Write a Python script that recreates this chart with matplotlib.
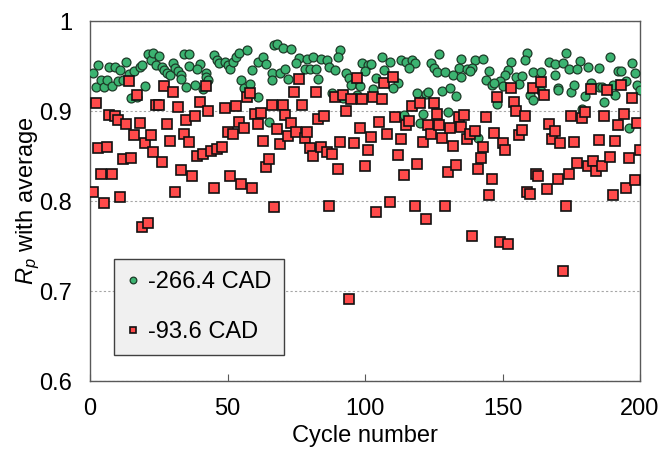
import matplotlib
matplotlib.use("Agg")
import matplotlib.pyplot as plt

plt.rcParams['font.family'] = ['Liberation Sans', 'DejaVu Sans']
plt.rcParams['mathtext.fontset'] = 'custom'
plt.rcParams['mathtext.rm'] = 'Liberation Sans'
plt.rcParams['mathtext.it'] = 'Liberation Sans:italic'

# ---- data ----
green_cycle = [1, 2, 3, 4, 5, 6, 7, 8, 9, 10, 11, 12, 13, 14, 15, 16, 17, 18, 19, 20,
               21, 22, 23, 24, 25, 26, 27, 28, 29, 30, 31, 32, 33,
               34, 36, 36, 40, 39, 33, 35, 38, 41, 42, 42, 43, 45, 46, 47, 49, 50,
               51, 52, 53, 54, 57, 59, 55, 56, 58, 61, 61, 63, 64, 65, 67, 66, 66,
               68, 70, 73, 76, 79, 81, 84, 86, 91, 90, 75, 87, 89, 78, 80, 82, 69,
               71, 72, 83, 93, 94, 96, 95, 98, 99, 101, 88, 92, 97, 100,
               106, 109, 113, 115, 117, 118, 116, 124, 127, 125, 126, 129, 132, 134,
               135, 135, 102, 104, 107, 112, 110, 103, 119, 122, 123, 128, 131, 133,
               130, 121, 114, 120,
               140, 143, 159, 158, 153, 167, 169, 137, 139, 145, 152, 138, 155, 157,
               161, 164, 169, 151, 144, 149, 146, 147, 150, 156, 148, 160, 161, 164,
               170, 141,
               173, 189, 172, 178, 174, 177, 181, 185, 197, 198, 192, 193, 170, 175,
               176, 182, 185, 186, 190, 195, 199, 200, 180, 191, 187, 179, 196]
green_rp = [0.942, 0.927, 0.951, 0.934, 0.927, 0.934, 0.949, 0.928, 0.949, 0.933,
            0.946, 0.934, 0.954, 0.941, 0.914, 0.944, 0.916, 0.949, 0.951, 0.928,
            0.963, 0.957, 0.964, 0.951, 0.961, 0.949, 0.946, 0.942, 0.940, 0.953,
            0.948, 0.945, 0.940,
            0.963, 0.963, 0.950, 0.952, 0.947, 0.936, 0.927, 0.929, 0.925, 0.942,
            0.938, 0.934, 0.962, 0.957, 0.953, 0.955, 0.951, 0.947, 0.955, 0.960,
            0.965, 0.968, 0.946, 0.934, 0.926, 0.930, 0.916, 0.955, 0.960, 0.952,
            0.888, 0.973, 0.942, 0.934,
            0.974, 0.970, 0.969, 0.959, 0.958, 0.960, 0.958, 0.957, 0.968, 0.960,
            0.953, 0.949, 0.946, 0.947, 0.947, 0.947, 0.942, 0.947, 0.936, 0.936,
            0.942, 0.937, 0.931, 0.929, 0.928, 0.953, 0.951, 0.920, 0.914, 0.918,
            0.944,
            0.960, 0.955, 0.957, 0.954, 0.957, 0.953, 0.948, 0.953, 0.963, 0.948,
            0.943, 0.943, 0.940, 0.948, 0.958, 0.938, 0.952, 0.937, 0.946, 0.931,
            0.926, 0.924, 0.920, 0.919, 0.921, 0.922, 0.926, 0.917, 0.899, 0.897,
            0.896, 0.887,
            0.957, 0.958, 0.965, 0.957, 0.954, 0.954, 0.952, 0.947, 0.948, 0.945,
            0.946, 0.944, 0.938, 0.939, 0.943, 0.943, 0.940, 0.940, 0.934, 0.933,
            0.929, 0.931, 0.928, 0.930, 0.908, 0.918, 0.912, 0.922, 0.926, 0.870,
            0.964, 0.960, 0.953, 0.956, 0.947, 0.947, 0.949, 0.948, 0.953, 0.942,
            0.944, 0.944, 0.923, 0.921, 0.929, 0.931, 0.927, 0.927, 0.929, 0.933,
            0.929, 0.923, 0.917, 0.918, 0.910, 0.902, 0.881]

# red: one point per cycle (cycles 47 and 178 hidden behind other marks)
red_cycle = list(range(1, 47)) + list(range(48, 178)) + list(range(179, 201))
red_rp = [0.810, 0.909, 0.859, 0.830, 0.798, 0.860, 0.896, 0.830, 0.894, 0.890,
          0.804, 0.847, 0.886, 0.933, 0.848, 0.873, 0.918, 0.887, 0.771, 0.864,
          0.776, 0.873, 0.854, 0.907, 0.907, 0.843, 0.928, 0.886, 0.867, 0.921,
          0.810, 0.905, 0.834,
          0.874, 0.890, 0.866, 0.828, 0.895, 0.850, 0.910, 0.852, 0.928, 0.900,
          0.856, 0.815, 0.858,
          0.860, 0.903, 0.877, 0.828, 0.874, 0.906, 0.888, 0.819, 0.881, 0.916,
          0.920, 0.815, 0.897, 0.886, 0.898, 0.867, 0.838, 0.847, 0.907, 0.793,
          0.880, 0.863, 0.907, 0.896, 0.872, 0.887, 0.921, 0.877, 0.936, 0.907,
          0.870, 0.877, 0.859, 0.850, 0.921, 0.891, 0.860, 0.895, 0.854, 0.795,
          0.852, 0.916, 0.836, 0.866, 0.918, 0.900, 0.691, 0.913, 0.864, 0.937,
          0.881, 0.913, 0.839, 0.857, 0.871,
          0.916, 0.788, 0.888, 0.913, 0.931, 0.874, 0.799, 0.938, 0.893, 0.851,
          0.869, 0.829, 0.885, 0.889, 0.906, 0.794, 0.841, 0.909, 0.866, 0.780,
          0.884, 0.875, 0.909, 0.897, 0.884, 0.870, 0.795, 0.832, 0.881, 0.861,
          0.840, 0.893, 0.882, 0.896,
          0.869, 0.875, 0.761, 0.878, 0.836, 0.848, 0.860, 0.893, 0.807, 0.825,
          0.876, 0.916, 0.754, 0.865, 0.857, 0.752, 0.926, 0.910, 0.900, 0.873,
          0.879, 0.895, 0.810, 0.808, 0.926, 0.830, 0.828, 0.932, 0.918, 0.813,
          0.886, 0.869, 0.878, 0.825, 0.865, 0.722,
          0.794, 0.830, 0.895, 0.866, 0.842, 0.892, 0.899, 0.839, 0.924, 0.844,
          0.833, 0.868, 0.839, 0.895, 0.923, 0.849, 0.807, 0.867, 0.885, 0.929,
          0.897, 0.815, 0.848, 0.915, 0.823, 0.887, 0.857]

labels = ['-266.4 CAD', '-93.6 CAD']
x_ticks = [0, 50, 100, 150, 200]
y_ticks = [0.6, 0.7, 0.8, 0.9, 1.0]
y_ticklabels = ['0.6', '0.7', '0.8', '0.9', '1']

FS = 17

# ---- figure ----
fig = plt.figure(figsize=(6.62, 4.49), dpi=100)
ax = fig.add_axes([90/662, 1-381/449, 550/662, 360/449])

ax.plot(green_cycle, green_rp, linestyle='none', marker='o', markersize=6.4,
        markerfacecolor='#3cb371', markeredgecolor='#1c3a27', markeredgewidth=0.9,
        label=labels[0], zorder=3)
ax.plot(red_cycle, red_rp, linestyle='none', marker='s', markersize=6.6,
        markerfacecolor='#ff4a4a', markeredgecolor='#111111', markeredgewidth=1.2,
        label=labels[1], zorder=4)

ax.set_xlim(0, 200)
ax.set_ylim(0.6, 1.0)
ax.set_xticks(x_ticks)
ax.set_yticks(y_ticks)
ax.set_yticklabels(y_ticklabels)
ax.tick_params(axis='x', direction='in', length=5, width=0.8, color='#595959',
               labelsize=FS, pad=12)
ax.tick_params(axis='y', length=0, labelsize=FS, pad=13)
ax.yaxis.grid(True, linestyle=(0, (2, 2)), color='#a6a6a6', linewidth=0.8)
ax.set_axisbelow(True)
for s in ax.spines.values():
    s.set_color('#595959')
    s.set_linewidth(1.0)

ax.set_xlabel('Cycle number', fontsize=FS, labelpad=4)
ax.set_ylabel(r'$R_p$ with average', fontsize=FS, labelpad=-2)

leg = ax.legend(loc='lower left', bbox_to_anchor=(0.044, 0.072), borderaxespad=0,
                fontsize=FS, frameon=True, fancybox=False, markerscale=0.75,
                handlelength=0.6, handletextpad=0.35, labelspacing=1.2,
                borderpad=0.5)
fr = leg.get_frame()
fr.set_facecolor('#f0f0f0')
fr.set_edgecolor('#404040')
fr.set_linewidth(1.0)
fr.set_alpha(1.0)

fig.savefig('out.png', dpi=100)
